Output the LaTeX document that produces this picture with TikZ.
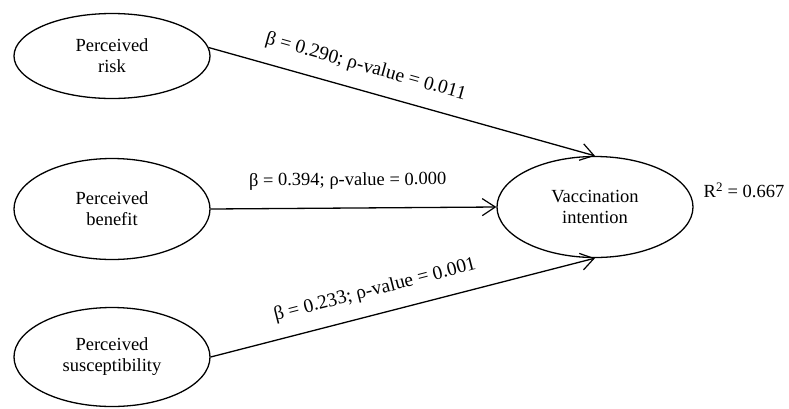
\documentclass[tikz,border=0pt]{standalone}
\usepackage{fontspec}
\setmainfont{Liberation Serif}
\usetikzlibrary{shapes.geometric,arrows.meta}
\begin{document}
\begin{tikzpicture}[x=1bp,y=-1bp,
  every node/.style={font=\fontsize{18.5bp}{21bp}\selectfont},
  latent/.style={ellipse, draw, line width=1.3bp, minimum width=196bp, align=center, inner sep=0pt},
  pathline/.style={line width=1.3bp, -{Straight Barb[length=13bp,width=17bp,line width=1.2bp]}},
  coef/.style={sloped, inner sep=2bp, anchor=south},
  slantcoef/.style={coef, font=\fontsize{19.5bp}{22bp}\selectfont}]
\useasboundingbox (0,0) rectangle (789,408);
\node[latent, minimum height=85bp] (risk) at (112,56) {Perceived\\risk};
\node[latent, minimum height=101bp] (benefit) at (112,209) {Perceived\\benefit};
\node[latent, minimum height=99bp] (susc) at (112,357) {Perceived\\susceptibility};
\node[latent, minimum height=101bp] (vi) at (595,207) {Vaccination\\intention};
\node (r2) at (744,190) {R\textsuperscript{2} = 0.667};
\draw[pathline] (risk.5) -- node[slantcoef, pos=0.39, yshift=12bp] {β = 0.290; ρ-value = 0.011} (vi.north);
\draw[pathline] (benefit.east) -- node[coef, pos=0.48, yshift=16bp] {β = 0.394; ρ-value = 0.000} (vi.west);
\draw[pathline] (susc.east) -- node[slantcoef, pos=0.443, yshift=12bp] {β = 0.233; ρ-value = 0.001} (vi.south);
\end{tikzpicture}
\end{document}
